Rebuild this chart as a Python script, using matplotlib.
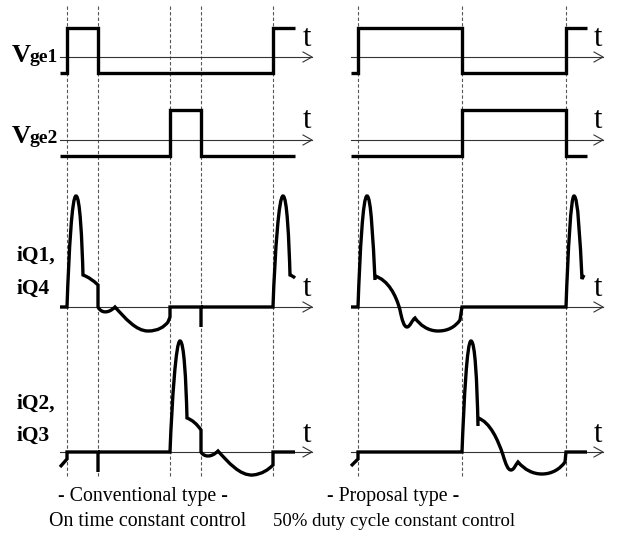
import matplotlib
matplotlib.use("Agg")
import matplotlib.pyplot as plt
from matplotlib.path import Path
from matplotlib.patches import PathPatch

# ---------------- data (schematic waveforms, figure pixel units) ----------------
# panel horizontal extents: start, end of waveforms, arrow tip
left_span = [60, 295, 312]
right_span = [351, 587, 603]
# axis baselines for the four rows
row_base = [57, 140, 307, 452]
# dashed switching instants
left_dash = [67, 98, 170, 201, 273]
right_dash = [358, 462, 566]

left_vge1 = [("M", 60, 73), ("L", 67, 73), ("L", 67, 28), ("L", 98, 28), ("L", 98, 73),
             ("L", 273, 73), ("L", 273, 28), ("L", 295, 28)]
left_vge2 = [("M", 60, 156), ("L", 170, 156), ("L", 170, 110), ("L", 201, 110),
             ("L", 201, 156), ("L", 295, 156)]
right_vge1 = [("M", 351, 73), ("L", 358, 73), ("L", 358, 28), ("L", 462, 28), ("L", 462, 73),
              ("L", 566, 73), ("L", 566, 28), ("L", 587, 28)]
right_vge2 = [("M", 351, 156), ("L", 462, 156), ("L", 462, 110), ("L", 566, 110),
              ("L", 566, 156), ("L", 587, 156)]

left_iq1 = [("M", 60, 307), ("L", 67, 307),
            ("C", 69, 250, 72, 196, 76, 196), ("C", 80, 196, 82, 240, 83, 275),
            ("Q", 91, 278, 98, 285), ("L", 98, 307),
            ("C", 101, 313, 108, 314, 115, 307),
            ("C", 125, 318, 136, 331, 148, 331), ("C", 158, 331, 164, 327, 168, 322),
            ("L", 170, 317), ("L", 170, 307), ("L", 201, 307), ("L", 201, 327),
            ("M", 201, 307), ("L", 273, 307),
            ("C", 275, 250, 279, 196, 283, 196), ("C", 287, 196, 289, 240, 290, 275),
            ("Q", 293, 276, 295, 278)]
left_iq2 = [("M", 60, 467), ("L", 67, 459), ("L", 67, 452), ("L", 98, 452), ("L", 98, 472),
            ("M", 98, 452), ("L", 170, 452),
            ("C", 172, 400, 176, 341, 180, 341), ("C", 184, 341, 186, 380, 187, 418),
            ("Q", 195, 421, 201, 430), ("L", 201, 452),
            ("C", 204, 457, 211, 458, 218, 451),
            ("C", 228, 462, 240, 476, 253, 475), ("C", 262, 474, 268, 470, 273, 465),
            ("L", 273, 452), ("L", 295, 452)]
right_iq1 = [("M", 351, 307), ("L", 358, 307),
             ("C", 360, 250, 363, 196, 367, 196), ("C", 371, 196, 373, 240, 375, 280),
             ("M", 375, 276),
             ("C", 388, 280, 396, 295, 400, 310), ("C", 402, 320, 404, 327, 407, 327),
             ("C", 410, 327, 412, 320, 415, 318),
             ("C", 420, 325, 428, 331, 438, 331), ("C", 448, 331, 455, 327, 460, 320),
             ("L", 462, 307), ("L", 566, 307),
             ("C", 568, 250, 571, 196, 574, 196), ("C", 578, 196, 580, 240, 582, 279),
             ("L", 584, 275)]
right_iq2 = [("M", 351, 466), ("L", 358, 459), ("L", 358, 452), ("L", 462, 452),
             ("C", 464, 400, 467, 341, 471, 341), ("C", 475, 341, 477, 380, 478, 426),
             ("M", 478, 418),
             ("C", 490, 422, 498, 440, 503, 455), ("C", 506, 465, 508, 470, 511, 470),
             ("C", 514, 470, 516, 464, 518, 462),
             ("C", 525, 470, 533, 474, 542, 474), ("C", 552, 474, 560, 469, 565, 462),
             ("L", 566, 452), ("L", 587, 452)]

row_labels_main = ["V", "V", "iQ1,", "iQ2,"]
row_labels_sub = ["ge1", "ge2", "iQ4", "iQ3"]
t_label_y = [38, 120, 288, 434]
captions_left = ["- Conventional type -", "On time constant control"]
captions_right = ["- Proposal type -", "50% duty cycle constant control"]

# ---------------- drawing ----------------
W, H = 621, 542
fig = plt.figure(figsize=(W / 100, H / 100), dpi=100)
ax = fig.add_axes([0, 0, 1, 1])
ax.set_xlim(0, W)
ax.set_ylim(H, 0)
ax.axis("off")

SERIF = ["Liberation Serif", "DejaVu Serif"]


def build_path(cmds):
    verts, codes = [], []
    for c in cmds:
        k = c[0]
        pts = list(zip(c[1::2], c[2::2]))
        if k == "M":
            codes.append(Path.MOVETO)
        elif k == "L":
            codes.append(Path.LINETO)
        elif k == "C":
            codes += [Path.CURVE4] * 3
        elif k == "Q":
            codes += [Path.CURVE3] * 2
        verts += pts
    return Path(verts, codes)


# dashed vertical guides
for xs in (left_dash, right_dash):
    for x in xs:
        ax.plot([x, x], [6, 478], color="#555555", lw=0.8, ls=(0, (3, 2)), zorder=1)

# time axes with arrows
for span in (left_span, right_span):
    for yb in row_base:
        ax.plot([span[0], span[2]], [yb, yb], color="#333333", lw=0.8, zorder=2)
        ax.plot([span[2] - 9, span[2], span[2] - 9], [yb - 5, yb, yb + 5],
                color="#333333", lw=0.8, zorder=2)

for ty in t_label_y:
    for span in (left_span, right_span):
        ax.text(span[2] - 5, ty, "t", fontsize=22, family=SERIF,
                ha="center", va="center", color="black")

for cmds in (left_vge1, left_vge2, right_vge1, right_vge2,
             left_iq1, left_iq2, right_iq1, right_iq2):
    ax.add_patch(PathPatch(build_path(cmds), fill=False, lw=2.4, ec="black",
                           capstyle="butt", joinstyle="miter", zorder=3))

# row labels
for yb, main, sub in ((62, row_labels_main[0], row_labels_sub[0]),
                      (143, row_labels_main[1], row_labels_sub[1])):
    ax.text(12, yb, main, fontsize=19, family=SERIF, weight="bold",
            ha="left", va="baseline")
    ax.text(30, yb, sub, fontsize=14, family=SERIF, weight="bold",
            ha="left", va="baseline")
ax.text(17, 256, row_labels_main[2], fontsize=15.5, family=SERIF, weight="bold",
        ha="left", va="center")
ax.text(17, 289, row_labels_sub[2], fontsize=15.5, family=SERIF, weight="bold",
        ha="left", va="center")
ax.text(17, 404, row_labels_main[3], fontsize=15.5, family=SERIF, weight="bold",
        ha="left", va="center")
ax.text(17, 436, row_labels_sub[3], fontsize=15.5, family=SERIF, weight="bold",
        ha="left", va="center")

# captions
ax.text(143, 497, captions_left[0], fontsize=14.3, family=SERIF, ha="center", va="center")
ax.text(148, 521, captions_left[1], fontsize=14.3, family=SERIF, ha="center", va="center")
ax.text(393, 497, captions_right[0], fontsize=14.3, family=SERIF, ha="center", va="center")
ax.text(394, 521, captions_right[1], fontsize=13.5, family=SERIF, ha="center", va="center")

fig.savefig("out.png", dpi=100)
